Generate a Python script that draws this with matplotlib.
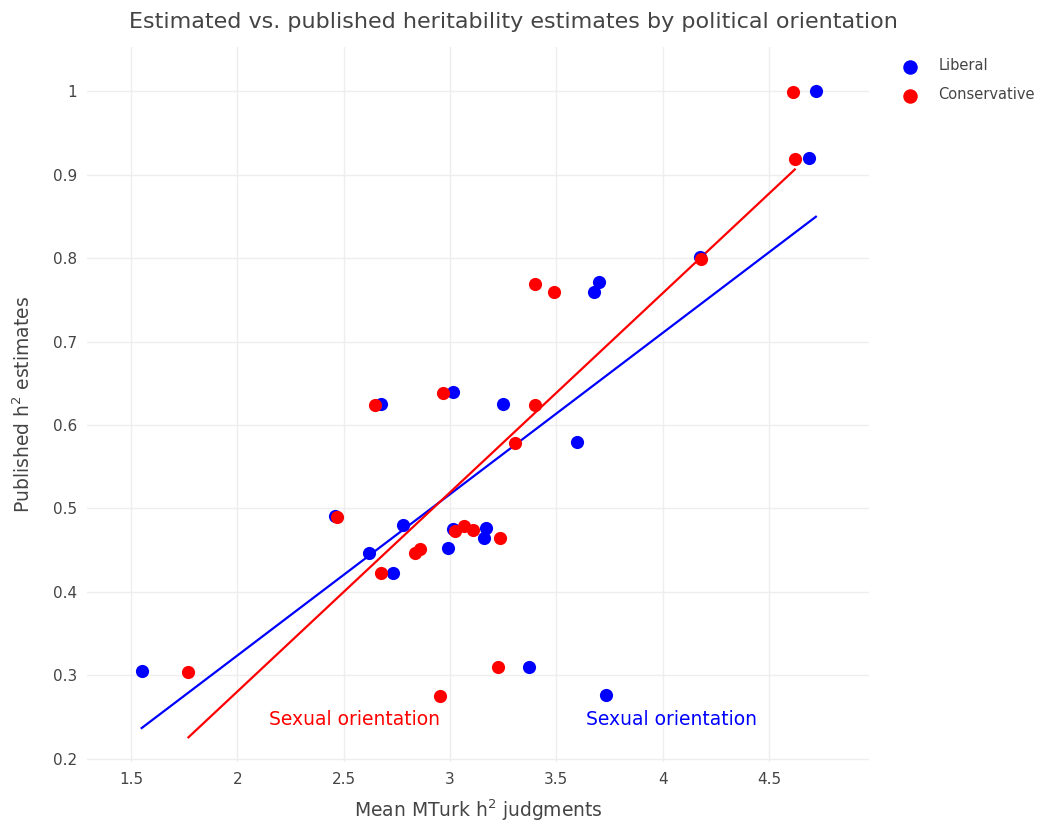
import matplotlib.pyplot as plt
import numpy as np

# mean MTurk judgments (x) and published estimates (y)
lib_x = [1.550, 2.457, 2.621, 2.730, 2.779, 2.990, 2.676, 3.012, 3.014, 3.169,
         3.161, 3.249, 3.371, 3.599, 3.731, 3.679, 3.699, 4.174, 4.689, 4.720]
lib_y = [0.305, 0.491, 0.447, 0.423, 0.480, 0.452, 0.625, 0.640, 0.475, 0.477,
         0.465, 0.625, 0.310, 0.580, 0.276, 0.760, 0.771, 0.801, 0.920, 1.000]
con_x = [1.770, 2.468, 2.675, 2.833, 2.857, 2.954, 2.645, 2.965, 3.025, 3.067,
         3.108, 3.236, 3.226, 3.307, 3.398, 3.398, 3.487, 4.181, 4.621, 4.612]
con_y = [0.304, 0.490, 0.423, 0.447, 0.451, 0.275, 0.624, 0.639, 0.473, 0.479,
         0.474, 0.465, 0.310, 0.579, 0.624, 0.769, 0.759, 0.799, 0.919, 0.999]

x_ticks = [1.5, 2, 2.5, 3, 3.5, 4, 4.5]
y_ticks = [0.2, 0.3, 0.4, 0.5, 0.6, 0.7, 0.8, 0.9, 1]

BLUE = '#0000ff'
RED = '#ff0000'
TXT = '#444444'

plt.rcParams['font.family'] = ['DejaVu Sans']

fig = plt.figure(figsize=(10.41, 8.25), dpi=100)
ax = fig.add_axes([0.0836, 0.0764, 0.7512, 0.8663])

ax.scatter(lib_x, lib_y, s=90, c=BLUE, linewidths=0, label='Liberal', zorder=3)
ax.scatter(con_x, con_y, s=90, c=RED, linewidths=0, label='Conservative', zorder=3)


def fit_line(xs, ys, color):
    xs = np.array(xs)
    k, b = np.polyfit(xs, ys, 1)
    xx = np.array([xs.min(), xs.max()])
    ax.plot(xx, k * xx + b, color=color, lw=1.6, zorder=2)


fit_line(lib_x, lib_y, BLUE)
fit_line(con_x, con_y, RED)

ax.text(2.549, 0.247, 'Sexual orientation', color=RED, fontsize=13.5,
        ha='center', va='center')
ax.text(4.041, 0.247, 'Sexual orientation', color=BLUE, fontsize=13.5,
        ha='center', va='center')

ax.set_xlim(1.293, 4.97)
ax.set_ylim(0.196, 1.053)
ax.set_xticks(x_ticks)
ax.set_xticklabels(['1.5', '2', '2.5', '3', '3.5', '4', '4.5'])
ax.set_yticks(y_ticks)
ax.set_yticklabels(['0.2', '0.3', '0.4', '0.5', '0.6', '0.7', '0.8', '0.9', '1'])
ax.tick_params(length=0, labelsize=11, labelcolor=TXT, pad=7)
ax.grid(color='#eeeeee', lw=1)
ax.set_axisbelow(True)
for s in ax.spines.values():
    s.set_visible(False)

ax.set_xlabel('Mean MTurk h$^2$ judgments', fontsize=13.5, color=TXT, labelpad=8)
ax.set_ylabel('Published h$^2$ estimates', fontsize=13.5, color=TXT, labelpad=14)
fig.text(0.493, 0.973, 'Estimated vs. published heritability estimates by political orientation',
         fontsize=16, color=TXT, ha='center', va='center')

fig.legend(loc='upper left', bbox_to_anchor=(0.848, 0.945), frameon=False,
           fontsize=10.5, labelcolor=TXT, handletextpad=0.9, labelspacing=0.95,
           markerscale=1.1)

fig.savefig('out.png', dpi=100)
